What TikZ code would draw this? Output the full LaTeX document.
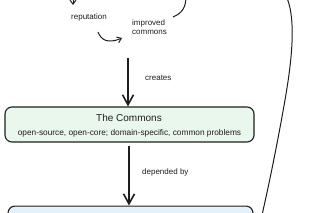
\documentclass[tikz,border=0pt]{standalone}
\usepackage{fontspec}
\setmainfont{Liberation Sans}
\usetikzlibrary{arrows.meta}
\definecolor{ink}{HTML}{1E1E1E}
\definecolor{greenfill}{HTML}{EAF7EC}
\definecolor{bluefill}{HTML}{E4F1FB}
\tikzset{
  lbl/.style={inner sep=0pt, text=ink, font=\fontsize{8}{9}\selectfont},
  thinarrow/.style={draw=ink, line width=1pt, -{Straight Barb[length=4pt,width=6pt]}},
  thickarrow/.style={draw=ink, line width=2.2pt, -{Straight Barb[length=10pt,width=11pt,line width=1.6pt]}},
  sketch/.style={draw=ink, line width=1pt},
  box/.style={draw=ink, line width=1.1pt, rounded corners=7pt, inner sep=0pt}
}
\begin{document}
\begin{tikzpicture}[x=1pt,y=-1pt]
\useasboundingbox (0,0) rectangle (320,213);
\clip (0,0) rectangle (320,213);
% top fragments
\coordinate (topin) at (73,-8);
\coordinate (toptip) at (73,5);
\draw[thinarrow] (topin) -- (toptip);
\node[lbl] (rep) at (89,17) {reputation};
\node[lbl, align=left, anchor=west] (impr) at (132,27.5) {improved\\commons};
\coordinate (c1s) at (98,32);
\coordinate (c1e) at (122,38);
\draw[thinarrow] (c1s) .. controls (101,40) and (108,44) .. (c1e);
\coordinate (c2s) at (173,17);
\coordinate (c2e) at (186,-4);
\draw[sketch] (c2s) .. controls (182,13) and (186,8) .. (c2e);
\coordinate (rs) at (287,-2);
\coordinate (re) at (262,215);
\draw[sketch] (rs) .. controls (296,20) and (292,60) .. (285,100) .. controls (278,140) and (270,180) .. (re);
% commons box
\node[box, fill=greenfill, minimum width=249pt, minimum height=35pt] (commons) at (129.5,124.5) {};
\node[lbl, font=\fontsize{10}{11}\selectfont] (ctitle) at (129,118) {The Commons};
\node[lbl, font=\fontsize{8.3}{9}\selectfont] (csub) at (129.5,133) {open-source, open-core; domain-specific, common problems};
% blue box
\node[box, fill=bluefill, minimum width=245pt, minimum height=40pt, anchor=north] (bottom) at (130.5,205.5) {};
% arrows
\coordinate (a1s) at (128,58);
\draw[thickarrow] (a1s) -- (commons.north -| a1s);
\node[lbl, anchor=west] (creates) at (145,78) {creates};
\coordinate (a2s) at (129,146);
\draw[thickarrow] (a2s) -- (bottom.north -| a2s);
\node[lbl, anchor=west] (dep) at (142,172) {depended by};
\end{tikzpicture}
\end{document}
